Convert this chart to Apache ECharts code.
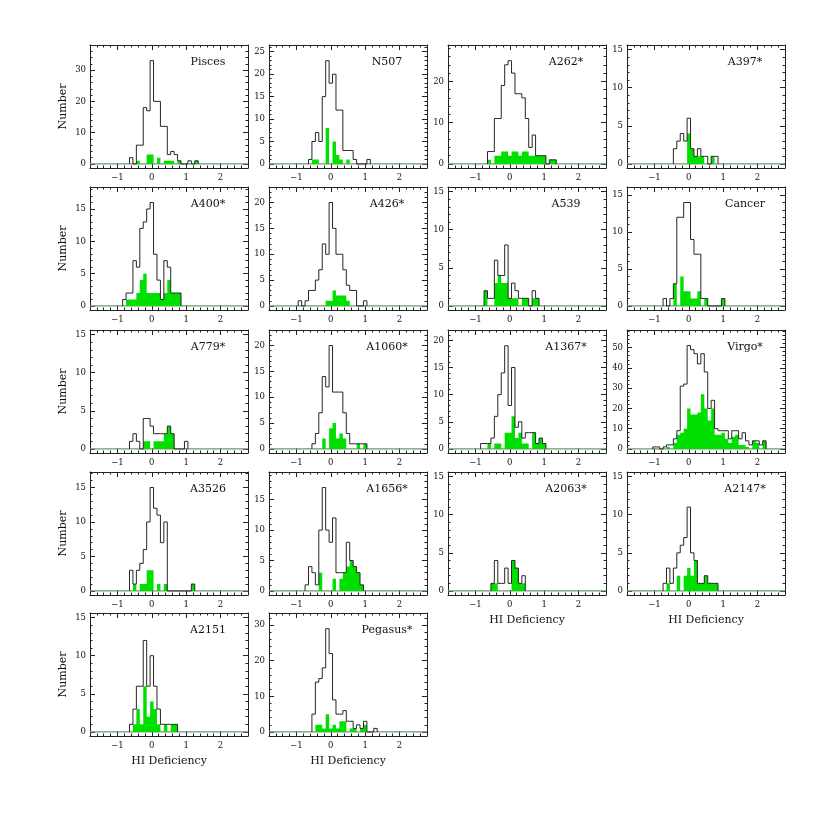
<!DOCTYPE html>
<html><head><meta charset="utf-8">
<script src="https://cdn.jsdelivr.net/npm/echarts@6/dist/echarts.min.js"></script>
<style>html,body{margin:0;padding:0;background:#fff}#c{width:830px;height:830px}</style>
</head><body><div id="c"></div>
<script>
// bin centres of the HI-deficiency histograms (bin width 0.1)
const binCenters = [-1.0,-0.9,-0.8,-0.7,-0.6,-0.5,-0.4,-0.3,-0.2,-0.1,
  0.0,0.1,0.2,0.3,0.4,0.5,0.6,0.7,0.8,0.9,
  1.0,1.1,1.2,1.3,1.4,1.5,1.6,1.7,1.8,1.9,
  2.0,2.1,2.2,2.3,2.4];
const xTickValues = [-1, 0, 1, 2];
const xMinorValues = [-1.6,-1.4,-1.2,-0.8,-0.6,-0.4,-0.2,0.2,0.4,0.6,0.8,1.2,1.4,1.6,1.8,2.2,2.4,2.6];

// counts per bin, starting at bin -1.0 (missing = 0); "All" = all galaxies, "Def" = HI-deficient (green)
const piscesAll  = [0,0,0,0,2,0,6,6,18,17, 33,20,20,12,12,3,4,3,1,0, 0,1,0,1];
const piscesDef  = [0,0,0,0,0,0,1,0,0,3, 3,0,2,0,1,1,1,0,1,0, 0,0,0,1];
const n507All    = [0,0,0,0,1,5,7,5,15,23, 18,20,12,12,3,3,3,1,0,0, 0,1];
const n507Def    = [0,0,0,0,0,1,1,0,0,8, 0,5,2,1,0,1];
const a262All    = [0,0,0,0,3,3,11,11,19,24, 25,22,17,17,16,11,4,7,2,2, 2,0,1,1];
const a262Def    = [0,0,0,0,1,0,2,2,3,3, 2,3,3,2,3,3,2,2,2,2, 2,0,1,1];
const a397All    = [0,0,0,0,0,0,2,3,4,3, 6,2,1,2,1,1,0,1,1];
const a397Def    = [0,0,0,0,0,0,0,0,0,0, 4,2,1,1,1,0,0,1];
const a400All    = [0,0,1,2,2,7,6,12,13,15, 16,8,4,1,7,6,2,2,2];
const a400Def    = [0,0,0,1,1,1,2,4,5,2, 2,2,2,1,2,4,2,2,2];
const a426All    = [0,1,0,1,3,3,5,7,12,10, 20,15,10,10,7,4,3,3,0,0, 1];
const a426Def    = [0,0,0,0,0,0,0,0,0,1, 1,3,2,2,2,1];
const a539All    = [0,0,0,2,1,1,6,4,4,8, 1,3,2,1,1,1,0,2,1];
const a539Def    = [0,0,0,2,0,0,3,4,3,3, 1,1,1,0,1,1,0,1,1];
const cancerAll  = [0,0,0,1,0,1,3,12,12,14, 14,9,7,7,1,1,0,0,0,0, 1];
const cancerDef  = [0,0,0,0,0,0,3,0,4,2, 2,1,1,2,0,1,0,0,0,0, 1];
const a779All    = [0,0,0,0,1,2,1,0,4,4, 3,2,2,2,2,3,2,0,0,0, 1];
const a779Def    = [0,0,0,0,0,0,0,0,1,1, 0,1,1,1,2,3,2];
const a1060All   = [0,0,0,0,0,1,3,7,14,12, 20,11,11,11,7,3,1,1,1,1, 1];
const a1060Def   = [0,0,0,0,0,0,0,0,2,0, 4,5,2,3,2,0,0,0,1,0, 1];
const a1367All   = [0,0,1,1,1,2,6,10,14,19, 8,15,4,5,2,3,3,3,1,2, 1];
const a1367Def   = [0,0,0,0,1,0,1,1,0,3, 3,6,2,3,1,1,0,3,1,2, 1];
const virgoAll   = [1,1,0,1,2,2,5,9,31,32, 51,49,47,42,47,38,20,24,10,9, 9,9,5,9,9,5,8,4,2,4, 4,2,4];
const virgoDef   = [0,0,0,0,1,0,3,7,8,10, 20,17,17,18,27,20,14,20,7,7, 8,5,3,6,7,2,2,1,0,4, 3,0,4];
const a3526All   = [0,0,0,0,3,1,3,4,6,10, 15,12,11,7,10,0,0,0,0,0, 0,0,1];
const a3526Def   = [0,0,0,0,0,1,0,1,1,3, 3,0,1,0,1,0,0,0,0,0, 0,0,1];
const a1656All   = [0,0,0,1,4,3,1,10,17,10, 8,12,3,3,3,8,5,4,3,1];
const a1656Def   = [0,0,0,0,0,0,0,3,0,0, 0,2,0,2,3,4,5,4,3,1];
const a2063All   = [0,0,0,0,0,1,4,1,1,3, 1,4,3,1,2];
const a2063Def   = [0,0,0,0,0,1,1,0,0,0, 0,4,3,1,1];
const a2147All   = [0,0,0,1,3,1,3,5,6,7, 11,5,4,1,1,2,1,1,1];
const a2147Def   = [0,0,0,0,1,0,0,2,0,2, 3,2,4,1,1,2,1,1,1];
const a2151All   = [0,0,0,0,1,3,6,6,12,6, 10,6,3,1,1,1,1,1];
const a2151Def   = [0,0,0,0,0,1,3,1,6,2, 4,3,1,0,1,0,1,1];
const pegasusAll = [0,0,0,0,0,5,14,15,18,29, 22,9,5,5,6,3,3,1,2,1, 3,0,0,1];
const pegasusDef = [0,0,0,0,0,0,2,2,1,5, 1,2,1,3,3,0,1,1,0,1, 2];

const panelNames = ['Pisces','N507','A262*','A397*','A400*','A426*','A539','Cancer',
  'A779*','A1060*','A1367*','Virgo*','A3526','A1656*','A2063*','A2147*','A2151','Pegasus*'];
const allCounts = [piscesAll,n507All,a262All,a397All,a400All,a426All,a539All,cancerAll,
  a779All,a1060All,a1367All,virgoAll,a3526All,a1656All,a2063All,a2147All,a2151All,pegasusAll];
const defCounts = [piscesDef,n507Def,a262Def,a397Def,a400Def,a426Def,a539Def,cancerDef,
  a779Def,a1060Def,a1367Def,virgoDef,a3526Def,a1656Def,a2063Def,a2147Def,a2151Def,pegasusDef];
// y-axis top and tick step per panel
const yMaxes  = [38,26.5,28.8,15.6, 18.4,23,15.6,16.1, 15.6,23,21.9,58.7, 17.25,19.55,15.6,15.6, 15.6,33.4];
const yMajor  = [10,5,10,5, 5,5,5,5, 5,5,5,10, 5,5,5,5, 5,10];

// ---------- layout / style ----------
const FONT = 'DejaVu Serif';
const FRAME = '#222';
const GREEN = '#00e000';
const OUTLINE = '#262626';
const BASE = '#6f976f';
const colLeft = [90, 269, 448, 627];
const rowTop = [45, 187, 330, 472, 613];
const W = 158, H = 123;
const XMIN = -1.8, XMAX = 2.8;

function r3(v){ return Math.round(v*1000)/1000; }
function histPoints(counts){
  let f = -1, l = -1;
  for (let i = 0; i < binCenters.length; i++) {
    const v = counts[i] || 0;
    if (v > 0) { if (f < 0) f = i; l = i; }
  }
  if (f < 0) return [];
  const pts = [[r3(binCenters[f]-0.05), 0]];
  for (let i = f; i <= l; i++) pts.push([r3(binCenters[i]-0.05), counts[i] || 0]);
  pts.push([r3(binCenters[l]+0.05), 0]);
  return pts;
}
function fmtX(v){ return v < 0 ? '\u2212' + Math.abs(v) : String(v); }

const grids = [], xAxes = [], yAxes = [], series = [], graphics = [];
panelNames.forEach((name, i) => {
  const row = Math.floor(i/4), col = i % 4;
  const left = colLeft[col], top = rowTop[row];
  grids.push({left: left, top: top, width: W, height: H, containLabel: false});
  const showXName = (row === 4) || (row === 3 && col >= 2);
  const showYName = col === 0;
  const yMax = yMaxes[i], yMin = -0.034*yMax, step = yMajor[i];
  const minorStep = step === 10 ? 2 : 1;
  const yTicks = [], yMinor = [];
  for (let v = 0; v <= yMax + 1e-9; v += step) yTicks.push(v);
  for (let v = minorStep; v <= yMax; v += minorStep) if (v % step !== 0) yMinor.push(v);

  const xBase = {type:'value', gridIndex:i, min:XMIN, max:XMAX, splitLine:{show:false}};
  const xi = xAxes.length;
  xAxes.push(Object.assign({}, xBase, {
    position:'bottom',
    axisLine:{show:true, onZero:false, lineStyle:{color:FRAME, width:1}},
    axisTick:{show:true, inside:true, length:5, customValues:xTickValues, lineStyle:{color:FRAME}},
    axisLabel:{show:true, customValues:xTickValues, formatter:fmtX, fontFamily:FONT, fontSize:8.5, color:'#111', margin:5},
    name: showXName ? 'HI Deficiency' : '', nameLocation:'middle', nameGap:20,
    nameTextStyle:{fontFamily:FONT, fontSize:11, color:'#111'}
  }));
  xAxes.push(Object.assign({}, xBase, {position:'bottom',
    axisLine:{show:false, onZero:false},
    axisTick:{show:true, inside:true, length:2.5, customValues:xMinorValues, lineStyle:{color:FRAME}},
    axisLabel:{show:false}}));
  xAxes.push(Object.assign({}, xBase, {position:'top',
    axisLine:{show:true, onZero:false, lineStyle:{color:FRAME, width:1}},
    axisTick:{show:true, inside:true, length:5, customValues:xTickValues, lineStyle:{color:FRAME}},
    axisLabel:{show:false}}));
  xAxes.push(Object.assign({}, xBase, {position:'top',
    axisLine:{show:false, onZero:false},
    axisTick:{show:true, inside:true, length:2.5, customValues:xMinorValues, lineStyle:{color:FRAME}},
    axisLabel:{show:false}}));

  const yBase = {type:'value', gridIndex:i, min:yMin, max:yMax, splitLine:{show:false}};
  const yi = yAxes.length;
  yAxes.push(Object.assign({}, yBase, {position:'left',
    axisLine:{show:true, onZero:false, lineStyle:{color:FRAME, width:1}},
    axisTick:{show:true, inside:true, length:5, customValues:yTicks, lineStyle:{color:FRAME}},
    axisLabel:{show:true, customValues:yTicks, fontFamily:FONT, fontSize:8.5, color:'#111', margin:4},
    name: showYName ? 'Number' : '', nameLocation:'middle', nameRotate:90, nameGap:21,
    nameTextStyle:{fontFamily:FONT, fontSize:11, color:'#111'}}));
  yAxes.push(Object.assign({}, yBase, {position:'left',
    axisLine:{show:false, onZero:false},
    axisTick:{show:true, inside:true, length:2.5, customValues:yMinor, lineStyle:{color:FRAME}},
    axisLabel:{show:false}}));
  yAxes.push(Object.assign({}, yBase, {position:'right',
    axisLine:{show:true, onZero:false, lineStyle:{color:FRAME, width:1}},
    axisTick:{show:true, inside:true, length:5, customValues:yTicks, lineStyle:{color:FRAME}},
    axisLabel:{show:false}}));
  yAxes.push(Object.assign({}, yBase, {position:'right',
    axisLine:{show:false, onZero:false},
    axisTick:{show:true, inside:true, length:2.5, customValues:yMinor, lineStyle:{color:FRAME}},
    axisLabel:{show:false}}));

  series.push({type:'line', xAxisIndex:xi, yAxisIndex:yi, data:[[XMIN,0],[XMAX,0]],
    symbol:'none', silent:true, lineStyle:{color:BASE, width:1.2}, z:2});
  series.push({type:'line', xAxisIndex:xi, yAxisIndex:yi, data:histPoints(defCounts[i]),
    step:'end', symbol:'none', silent:true, lineStyle:{width:0},
    areaStyle:{color:GREEN, opacity:1}, z:3});
  series.push({type:'line', xAxisIndex:xi, yAxisIndex:yi, data:histPoints(allCounts[i]),
    step:'end', symbol:'none', silent:true, lineStyle:{color:OUTLINE, width:1}, z:4});

  graphics.push({type:'text', x:left+118, y:top+17, z:10,
    style:{text:name, font:'11px "DejaVu Serif"', fill:'#111',
      align:'center', verticalAlign:'middle', textAlign:'center', textVerticalAlign:'middle'}});
});

const chart = echarts.init(document.getElementById('c'), null, {renderer:'canvas'});
chart.setOption({
  animation:false,
  backgroundColor:'#ffffff',
  grid:grids, xAxis:xAxes, yAxis:yAxes, series:series, graphic:graphics
});
</script>
</body></html>
